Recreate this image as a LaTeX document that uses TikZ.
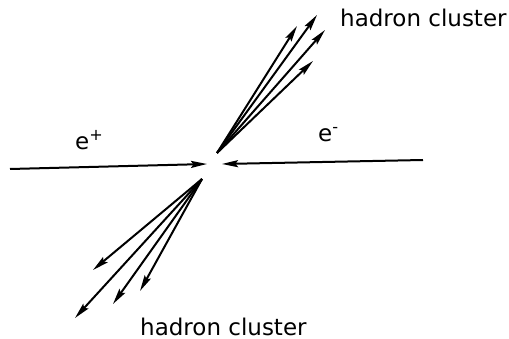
\documentclass[tikz,border=0pt]{standalone}
\usepackage{fontspec}
\setmainfont{DejaVu Sans}
\usepackage{tikz}
\usetikzlibrary{arrows.meta}

\begin{document}
\begin{tikzpicture}[
  x=1pt, y=-1pt,
  lbl/.style={font=\fontsize{23}{26}\selectfont, inner sep=0pt, anchor=base west},
  arr/.style={line width=2pt, -{Stealth[length=16pt,width=7pt,inset=2.5pt]}}
]
\useasboundingbox (0,0) rectangle (509,339);

% beams
\coordinate (pos) at (10,169);
\coordinate (ele) at (423,160);
\coordinate (hitl) at (207,164);
\coordinate (hitr) at (222,164);

% jet vertices and tips
\coordinate (up) at (217,153);
\coordinate (u1) at (297,26);
\coordinate (u2) at (317,15);
\coordinate (u3) at (325,30);
\coordinate (u4) at (313,61);
\coordinate (dn) at (202,179);
\coordinate (d1) at (93,270);
\coordinate (d2) at (75,318);
\coordinate (d3) at (113,304);
\coordinate (d4) at (140,291);

\node[lbl] (eplus) at (75,150) {e\textsuperscript{+}};
\node[lbl] (eminus) at (318,142) {e\textsuperscript{-}};
\node[lbl] (jetup) at (340,27) {hadron cluster};
\node[lbl] (jetdn) at (140,335) {hadron cluster};

\draw[arr] (pos) -- (hitl);
\draw[arr] (ele) -- (hitr);
\foreach \t in {u1,u2,u3,u4}
  \draw[arr] (up) -- (\t);
\foreach \t in {d1,d2,d3,d4}
  \draw[arr] (dn) -- (\t);
\end{tikzpicture}
\end{document}
